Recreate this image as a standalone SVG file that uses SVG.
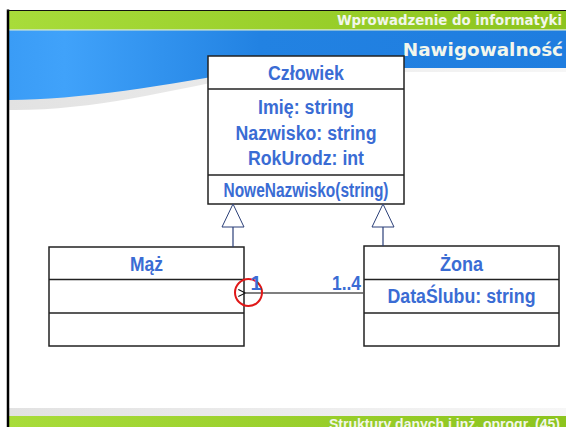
<svg xmlns="http://www.w3.org/2000/svg" width="568" height="427" viewBox="0 0 568 427">
  <defs>
    <linearGradient id="green" x1="0" y1="0" x2="1" y2="0">
      <stop offset="0" stop-color="#a8dc3a"/>
      <stop offset="1" stop-color="#8cc41e"/>
    </linearGradient>
    <linearGradient id="blue" x1="0" y1="0" x2="1" y2="0">
      <stop offset="0" stop-color="#3a9cf6"/>
      <stop offset="0.1" stop-color="#40a2fa"/>
      <stop offset="0.45" stop-color="#2282e2"/>
      <stop offset="1" stop-color="#1f7ddf"/>
    </linearGradient>
    <linearGradient id="shade" x1="0" y1="0" x2="1" y2="0">
      <stop offset="0" stop-color="#e2e2e2"/>
      <stop offset="1" stop-color="#f6f6f6"/>
    </linearGradient>
    <marker id="open" viewBox="0 0 10 10" refX="1" refY="5" markerWidth="9" markerHeight="9" markerUnits="userSpaceOnUse" orient="auto">
      <path d="M9,1 L1,5 L9,9" fill="none" stroke="#111" stroke-width="1.2"/>
    </marker>
    <style>
      .box { fill: #fff; stroke: #222; stroke-width: 1.5; }
      .div { stroke: #222; stroke-width: 1.5; }
      .t { font-family: "Liberation Sans", Arial, sans-serif; font-weight: bold; fill: #3a6cd4; text-anchor: middle; font-size: 20px; }
      .end { text-anchor: end; }
      .gen { fill: #fff; stroke: #2b3f78; stroke-width: 1; }
      .stem { stroke: #2b3f78; stroke-width: 1.2; }
      .hdr { font-family: "DejaVu Sans", Verdana, sans-serif; font-weight: bold; fill: #f2f6ec; text-anchor: end; }
      .ftr { font-family: "Liberation Sans", Arial, sans-serif; font-weight: bold; fill: #f2f6ec; text-anchor: end; font-size: 14px; }
    </style>
  </defs>

  <!-- slide background and frame -->
  <rect x="0" y="0" width="568" height="427" fill="#fff"/>
  <rect x="9" y="11" width="557" height="19" fill="url(#green)"/>
  <rect x="9" y="29" width="557" height="1.5" fill="#c6e2a8"/>
  <path d="M9,110 C90,111 170,91 262,72 L566,72 L566,68 L9,68 Z" fill="url(#shade)"/>
  <path d="M9,30.5 L566,30.5 L566,68 L262,68 C170,85 80,100 9,100 Z" fill="url(#blue)"/>
  <rect x="9" y="408" width="557" height="8" fill="url(#shade)"/>
  <rect x="9" y="416" width="557" height="11" fill="url(#green)"/>
  <line x1="8" y1="9.5" x2="8" y2="427" stroke="#000" stroke-width="2.5"/>
  <line x1="7" y1="10.5" x2="566" y2="10.5" stroke="#111" stroke-width="1.2"/>

  <text class="hdr" x="562" y="25" font-size="13.3">Wprowadzenie do informatyki</text>
  <text class="hdr" x="563" y="56" font-size="18.4" fill="#fff">Nawigowalność</text>
  <text class="ftr" x="560" y="429">Struktury danych i inż. oprogr. (45)</text>

  <g id="czlowiek">
    <rect class="box" x="208" y="56" width="196" height="148"/>
    <line class="div" x1="208" y1="89" x2="404" y2="89"/>
    <line class="div" x1="208" y1="175" x2="404" y2="175"/>
    <text class="t" x="306" y="80" textLength="76" lengthAdjust="spacingAndGlyphs">Człowiek</text>
    <text class="t" x="306" y="114" textLength="96" lengthAdjust="spacingAndGlyphs">Imię: string</text>
    <text class="t" x="306" y="140" textLength="141" lengthAdjust="spacingAndGlyphs">Nazwisko: string</text>
    <text class="t" x="306" y="165" textLength="116" lengthAdjust="spacingAndGlyphs">RokUrodz: int</text>
    <text class="t" x="306" y="197" font-size="18.5" textLength="165" lengthAdjust="spacingAndGlyphs">NoweNazwisko(string)</text>
  </g>

  <g id="maz">
    <rect class="box" x="49" y="247" width="195" height="99"/>
    <line class="div" x1="49" y1="279.5" x2="244" y2="279.5"/>
    <line class="div" x1="49" y1="313" x2="244" y2="313"/>
    <text class="t" x="146.5" y="271" textLength="33" lengthAdjust="spacingAndGlyphs">Mąż</text>
  </g>

  <g id="zona">
    <rect class="box" x="364" y="246" width="195" height="100"/>
    <line class="div" x1="364" y1="279.5" x2="559" y2="279.5"/>
    <line class="div" x1="364" y1="313" x2="559" y2="313"/>
    <text class="t" x="461.5" y="271" textLength="43" lengthAdjust="spacingAndGlyphs">Żona</text>
    <text class="t" x="461.5" y="302.5" textLength="148" lengthAdjust="spacingAndGlyphs">DataŚlubu: string</text>
  </g>

  <!-- connectors -->
  <g id="connectors">
    <line class="stem" x1="233" y1="227" x2="233" y2="247"/>
    <polygon class="gen" points="233,204 222,227 244,227"/>
    <line class="stem" x1="383" y1="227" x2="383" y2="246"/>
    <polygon class="gen" points="383,204 372,227 394,227"/>
    <line x1="364" y1="293" x2="245.5" y2="293" stroke="#555" stroke-width="1.5" marker-end="url(#open)"/>
    <circle cx="248.5" cy="292.5" r="13.5" fill="none" stroke="#e01818" stroke-width="2"/>
    <text class="t" x="256" y="290" font-size="19">1</text>
    <text class="t end" x="361" y="290" font-size="19" textLength="29" lengthAdjust="spacingAndGlyphs">1..4</text>
  </g>
</svg>
